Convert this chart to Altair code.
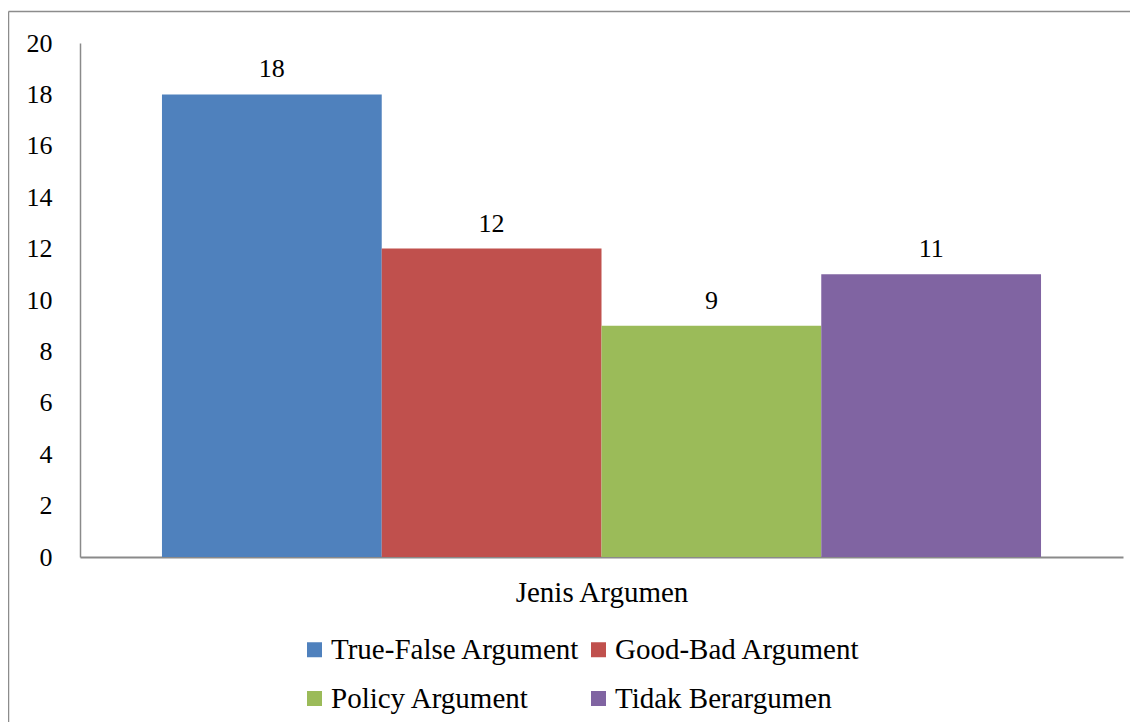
import altair as alt
import pandas as pd

series = ["True-False Argument", "Good-Bad Argument", "Policy Argument", "Tidak Berargumen"]
values = [18, 12, 9, 11]
colors = ["#4F81BD", "#C0504D", "#9BBB59", "#8064A2"]
category = "Jenis Argumen"
y_ticks = list(range(0, 21, 2))

# legend grid fills column by column: order entries so rows read left-to-right
legend_order = [0, 2, 1, 3]
legend_domain = [series[i] for i in legend_order]
legend_range = [colors[i] for i in legend_order]

df = pd.DataFrame({"series": series, "value": values})

FONT = "'Liberation Serif', 'Times New Roman', 'DejaVu Serif', serif"
W, H = 1043, 514

base = alt.Chart(df)

bars = base.mark_bar().encode(
    x=alt.X("series:N", sort=series,
            scale=alt.Scale(domain=series, paddingInner=0, paddingOuter=0.373),
            axis=alt.Axis(labels=False, ticks=False, title=category, titleFont=FONT,
                          titleFontSize=29, titleFontWeight="normal", titleColor="black",
                          titlePadding=21, domainColor="#8a8a8a", domainWidth=2)),
    y=alt.Y("value:Q", scale=alt.Scale(domain=[0, 20], nice=False),
            axis=alt.Axis(values=y_ticks, grid=False, ticks=False, title=None,
                          labelFont=FONT, labelFontSize=26, labelColor="black",
                          labelPadding=28, domainColor="#8a8a8a", domainWidth=1.5)),
    color=alt.Color("series:N",
                    scale=alt.Scale(domain=legend_domain, range=legend_range),
                    legend=alt.Legend(title=None, orient="none", legendX=220, legendY=592,
                                      columns=2, symbolType="square", symbolSize=225,
                                      symbolStrokeWidth=0, labelFont=FONT, labelFontSize=29,
                                      labelColor="black", labelOffset=2, rowPadding=19,
                                      columnPadding=4, padding=0, labelLimit=400)),
)

labels = base.mark_text(font=FONT, fontSize=26, color="black", baseline="alphabetic", dy=-17).encode(
    x=alt.X("series:N", sort=series),
    y="value:Q",
    text="value:Q",
)

one = alt.Data(values=[{"k": 1}])
left_border = alt.Chart(one).mark_rule(color="#8c8c8c", strokeWidth=1.5).encode(
    x=alt.value(-71.5), y=alt.value(-31.5), y2=alt.value(H + 200))
top_border = alt.Chart(one).mark_rule(color="#8c8c8c", strokeWidth=1.5).encode(
    x=alt.value(-71.5), x2=alt.value(W + 40), y=alt.value(-31.5))

chart = alt.layer(bars, labels, left_border, top_border).properties(
    width=W, height=H,
    autosize=alt.AutoSizeParams(type="none"),
    padding={"left": 72, "top": 35, "right": 7, "bottom": 165},
).configure(background="white", font=FONT).configure_view(stroke=None, strokeWidth=0)

chart.save("out.html", embed_options={"renderer": "svg", "actions": False})
